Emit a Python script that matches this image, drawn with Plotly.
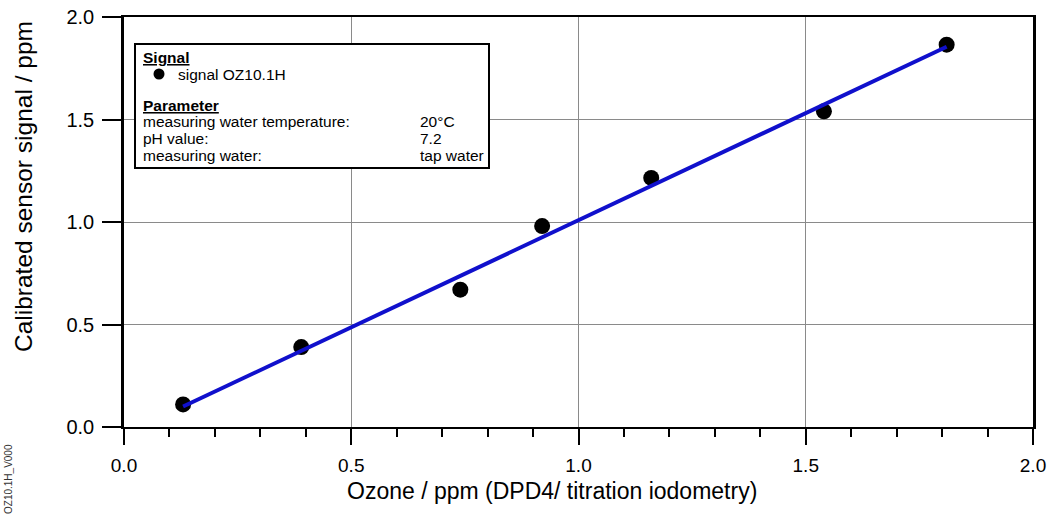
import plotly.graph_objects as go

# Data
ozone_ref = [0.13, 0.39, 0.74, 0.92, 1.16, 1.54, 1.81]
sensor_signal = [0.11, 0.39, 0.67, 0.98, 1.215, 1.54, 1.865]
fit_x = [0.13, 1.81]
fit_y = [0.10, 1.855]

x_ticks = [0.0, 0.5, 1.0, 1.5, 2.0]
y_ticks = [0.0, 0.5, 1.0, 1.5, 2.0]
x_ticklabels = ["0.0", "0.5", "1.0", "1.5", "2.0"]
y_ticklabels = ["0.0", "0.5", "1.0", "1.5", "2.0"]

param_names = ["measuring water temperature:", "pH value:", "measuring water:"]
param_values = ["20°C", "7.2", "tap water"]

W, H = 1054, 521
ML, MR, MT, MB = 124, 21, 17, 94
PW, PH = W - ML - MR, H - MT - MB


def px(xp):
    return (xp - ML) / PW


def py(yp):
    return (H - MB - yp) / PH


FONT = "Liberation Sans, Arial, sans-serif"

fig = go.Figure()
fig.add_trace(go.Scatter(
    x=ozone_ref, y=sensor_signal, mode="markers",
    marker=dict(color="black", size=16), showlegend=False,
))
fig.add_trace(go.Scatter(
    x=fit_x, y=fit_y, mode="lines",
    line=dict(color="#1010CC", width=4), showlegend=False,
))

fig.update_layout(
    width=W, height=H,
    margin=dict(l=ML, r=MR, t=MT, b=MB, autoexpand=False),
    paper_bgcolor="white", plot_bgcolor="white",
    font=dict(family=FONT, color="black"),
    xaxis=dict(
        range=[0, 2], tickvals=x_ticks, ticktext=x_ticklabels,
        showgrid=True, gridcolor="#8a8a8a", gridwidth=1,
        showline=True, linecolor="black", linewidth=2, mirror=True,
        ticks="outside", ticklen=16, tickwidth=1.5, tickcolor="black",
        minor=dict(dtick=0.1, tick0=0, ticks="outside", ticklen=8,
                   tickwidth=1.5, tickcolor="black", showgrid=False),
        tickfont=dict(size=19, family=FONT),
        ticklabelstandoff=4,
        zeroline=False,
        automargin=False,
    ),
    yaxis=dict(
        range=[0, 2], tickvals=y_ticks, ticktext=y_ticklabels,
        showgrid=True, gridcolor="#8a8a8a", gridwidth=1,
        showline=True, linecolor="black", linewidth=2.5, mirror=True,
        ticks="outside", ticklen=19, tickwidth=1.5, tickcolor="black",
        tickfont=dict(size=20, family=FONT),
        ticklabelstandoff=4,
        zeroline=False,
        automargin=False,
    ),
)

# Axis titles
fig.add_annotation(text="Ozone / ppm (DPD4/ titration iodometry)",
                   xref="paper", yref="paper", x=px(552), y=py(491),
                   xanchor="center", yanchor="middle", showarrow=False,
                   font=dict(size=23, family=FONT, color="black"))
fig.add_annotation(text="Calibrated sensor signal / ppm",
                   xref="paper", yref="paper", x=px(23), y=py(187),
                   xanchor="center", yanchor="middle", textangle=-90, showarrow=False,
                   font=dict(size=24.5, family=FONT, color="black"))

# Legend / parameter box
fig.add_shape(type="rect", xref="paper", yref="paper",
              x0=px(135), x1=px(489), y0=py(168), y1=py(44),
              line=dict(color="black", width=2), fillcolor="white", layer="above")

LF = 15.5
anns = []
anns.append(dict(text="<b><u>Signal</u></b>", x=px(141), y=py(58)))
anns.append(dict(text="signal OZ10.1H", x=px(176), y=py(74)))
anns.append(dict(text="<b><u>Parameter</u></b>", x=px(141), y=py(106)))
row_y = [121, 138, 155]
for name, val, yy in zip(param_names, param_values, row_y):
    anns.append(dict(text=name, x=px(141), y=py(yy)))
    anns.append(dict(text=val, x=px(418), y=py(yy)))
for a in anns:
    fig.add_annotation(xref="paper", yref="paper", xanchor="left", yanchor="middle",
                       showarrow=False, font=dict(size=LF, family=FONT, color="black"),
                       **a)

fig.add_shape(type="circle", xref="paper", yref="paper",
              xsizemode="pixel", ysizemode="pixel",
              xanchor=px(159), yanchor=py(74), x0=-5.5, x1=5.5, y0=-5.5, y1=5.5,
              fillcolor="black", line=dict(color="black", width=0), layer="above")

# Rotated document id
fig.add_annotation(text="OZ10.1H_V000", xref="paper", yref="paper",
                   x=px(8), y=py(479), xanchor="center", yanchor="middle",
                   textangle=-90, showarrow=False,
                   font=dict(size=10, family=FONT, color="#333333"))

fig.write_html("out.html", config={"displayModeBar": False},
               post_script="document.body.style.margin='0px';document.body.style.overflow='hidden';")
